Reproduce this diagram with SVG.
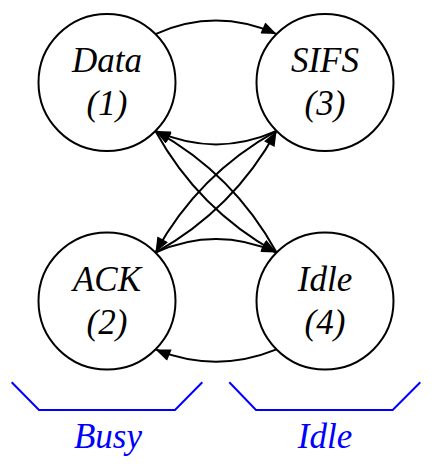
<svg xmlns="http://www.w3.org/2000/svg" width="432" height="466" viewBox="0 0 432 466">
<style>
.node circle{fill:#fff;stroke:#000;stroke-width:2}
.lbl{font-family:"Liberation Serif","Times New Roman",serif;font-style:italic;font-size:35px;text-anchor:middle;fill:#000}
.edge{fill:none;stroke:#000;stroke-width:2;marker-end:url(#arr)}
.brk{fill:none;stroke:#0000ff;stroke-width:2}
.blbl{font-family:"Liberation Serif","Times New Roman",serif;font-style:italic;font-size:35px;text-anchor:middle;fill:#0000ff}
</style>
<defs>
<marker id="arr" markerUnits="userSpaceOnUse" markerWidth="16" markerHeight="12" viewBox="0 0 15 12" refX="15" refY="6" orient="auto">
<path d="M0,0 L15,6 L0,12 z" fill="#000"/>
</marker>
</defs>
<g id="connectors">
<path class="edge" d="M155.44,34.06 Q216,7.06 276.56,34.06"/>
<path class="edge" d="M276.56,130.94 Q216,157.94 155.44,130.94"/>
<path class="edge" d="M155.44,252.56 Q216,225.56 276.56,252.56"/>
<path class="edge" d="M276.56,349.44 Q216,374 155.44,349.44"/>
<path class="edge" d="M155.44,130.94 Q198.46,209.29 276.56,252.56"/>
<path class="edge" d="M276.56,252.56 Q233.54,174.21 155.44,130.94"/>
<path class="edge" d="M276.56,130.94 Q198.46,174.21 155.44,252.56"/>
<path class="edge" d="M155.44,252.56 Q233.54,209.29 276.56,130.94"/>
</g>
<g id="data" class="node">
<circle cx="107" cy="82.5" r="68.5"/>
<text class="lbl" x="107" y="72">Data</text>
<text class="lbl" x="107" y="115">(1)</text>
</g>
<g id="sifs" class="node">
<circle cx="325" cy="82.5" r="68.5"/>
<text class="lbl" x="325" y="72">SIFS</text>
<text class="lbl" x="325" y="115">(3)</text>
</g>
<g id="ack" class="node">
<circle cx="107" cy="301" r="68.5"/>
<text class="lbl" x="107" y="290.5">ACK</text>
<text class="lbl" x="107" y="333.5">(2)</text>
</g>
<g id="idle" class="node">
<circle cx="325" cy="301" r="68.5"/>
<text class="lbl" x="325" y="290.5">Idle</text>
<text class="lbl" x="325" y="333.5">(4)</text>
</g>
<g id="busy-group">
<path class="brk" d="M11.7,382.3 L39,410 L175,410 L202.3,382.3"/>
<text class="blbl" x="108" y="448">Busy</text>
</g>
<g id="idle-group">
<path class="brk" d="M229.3,382.3 L256,410 L392.7,410 L420.3,382.3"/>
<text class="blbl" x="325" y="448">Idle</text>
</g>
</svg>
